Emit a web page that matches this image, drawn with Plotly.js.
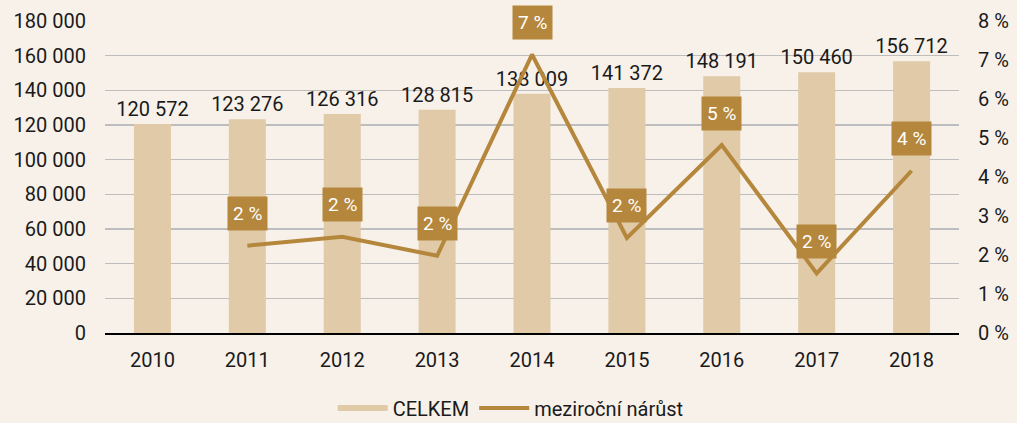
<!DOCTYPE html>
<html>
<head>
<meta charset="utf-8">
<script src="https://cdn.plot.ly/plotly-3.0.1.min.js"></script>
<style>
html,body{margin:0;padding:0;background:#f7f1ea;}
#chart{width:1017px;height:423px;}
</style>
</head>
<body>
<div id="chart"></div>
<script>
const years = ['2010','2011','2012','2013','2014','2015','2016','2017','2018'];
const celkem = [120572, 123276, 126316, 128815, 138009, 141372, 148191, 150460, 156712];
const narust = [null, 2.24, 2.47, 1.98, 7.14, 2.44, 4.82, 1.53, 4.16];

const barColor = '#e0caa8';
const lineColor = '#b5873c';
const font = 'Roboto, sans-serif';

const traces = [
  {
    type: 'bar', x: years, y: celkem, name: 'CELKEM', showlegend: false,
    marker: {color: barColor}, width: 0.39,
    texttemplate: '%{y:,}', textposition: 'outside', cliponaxis: false, constraintext: 'none',
    textfont: {family: font, size: 20, color: '#1a1a1a'}, hoverinfo: 'skip'
  },
  {
    type: 'scatter', mode: 'lines', x: years, y: years.map(() => null), name: 'CELKEM',
    line: {color: barColor, width: 6}, hoverinfo: 'skip'
  },
  {
    type: 'scatter', mode: 'lines', x: years, y: narust, yaxis: 'y2',
    name: 'meziroční nárůst', line: {color: lineColor, width: 4}, cliponaxis: false,
    hoverinfo: 'skip'
  }
];

const annotations = [];
years.forEach((yr, i) => {
  if (narust[i] === null) return;
  annotations.push({
    x: i, y: narust[i], xref: 'x', yref: 'y2',
    text: Math.round(narust[i]) + ' %', showarrow: false,
    yshift: 32, bgcolor: lineColor, borderpad: 5,
    font: {family: font, size: 19, color: '#ffffff'}
  });
});

const layout = {
  width: 1017, height: 423,
  paper_bgcolor: '#f7f1ea', plot_bgcolor: '#f7f1ea',
  margin: {l: 105, r: 58, t: 21, b: 90, autoexpand: false},
  separators: ', ',
  font: {family: font, size: 20, color: '#1a1a1a'},
  xaxis: {
    type: 'category', range: [-0.5, 8.5], showgrid: false, showline: true,
    linecolor: '#000000', linewidth: 1.5,
    ticks: '', tickfont: {family: font, size: 20, color: '#1a1a1a'}, ticklabelstandoff: 8
  },
  yaxis: {
    range: [0, 180000], dtick: 20000, tickformat: ',', showgrid: true,
    gridcolor: '#bdbdbd', gridwidth: 1.5, zeroline: false, ticks: '',
    tickfont: {family: font, size: 20, color: '#1a1a1a'}, ticklabelstandoff: 18
  },
  yaxis2: {
    overlaying: 'y', side: 'right', range: [0, 8], dtick: 1, ticksuffix: ' %',
    showgrid: false, zeroline: false, ticks: '',
    tickfont: {family: font, size: 20, color: '#1a1a1a'}, ticklabelstandoff: 18
  },
  legend: {
    orientation: 'h', x: 0.475, xanchor: 'center', y: -0.24, yanchor: 'middle',
    font: {family: font, size: 20, color: '#1a1a1a'}, bgcolor: 'rgba(0,0,0,0)',
    itemwidth: 50, entrywidth: 0
  },
  annotations: annotations
};

Plotly.newPlot('chart', traces, layout, {displayModeBar: false, staticPlot: true});
</script>
</body>
</html>
